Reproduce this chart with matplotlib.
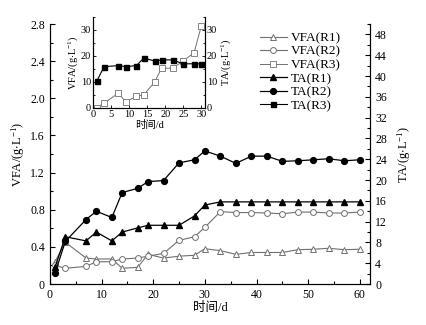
import matplotlib; matplotlib.use('Agg')
import matplotlib.pyplot as plt
from matplotlib.ticker import MultipleLocator

plt.rcParams['font.family'] = ['Liberation Serif', 'Noto Sans CJK SC']
plt.rcParams['mathtext.fontset'] = 'stix'

# main chart data
days = [1, 3, 7, 9, 12, 14, 17, 19, 22, 25, 28, 30, 33, 36, 39, 42, 45, 48, 51, 54, 57, 60]
vfa_r1 = [0.24, 0.45, 0.28, 0.27, 0.27, 0.17, 0.18, 0.32, 0.28, 0.30, 0.31, 0.38,
          0.36, 0.32, 0.34, 0.34, 0.34, 0.37, 0.375, 0.385, 0.37, 0.375]
vfa_r2 = [0.20, 0.17, 0.19, 0.24, 0.24, 0.27, 0.28, 0.30, 0.33, 0.47, 0.51, 0.61,
          0.78, 0.77, 0.77, 0.765, 0.757, 0.775, 0.775, 0.765, 0.765, 0.775]
ta_r1 = [3.2, 9.1, 8.3, 10.0, 8.3, 10.0, 10.8, 11.3, 11.3, 11.3, 13.1, 15.2,
         15.8, 15.8, 15.8, 15.8, 15.8, 15.8, 15.8, 15.8, 15.8, 15.8]
ta_r2 = [2.1, 8.2, 12.4, 14.0, 12.8, 17.6, 18.4, 19.7, 19.9, 23.3, 23.9, 25.6,
         24.6, 23.2, 24.6, 24.6, 23.6, 23.7, 23.9, 24.1, 23.7, 23.9]

# inset data (R3)
days3 = [1, 3, 7, 9, 12, 14, 17, 19, 22, 25, 28, 30]
vfa_r3 = [0.0, 1.7, 5.6, 2.2, 4.3, 4.9, 9.8, 15.2, 15.2, 18.0, 21.2, 31.5]
ta_r3 = [10.3, 15.8, 16.2, 15.8, 16.2, 19.1, 18.0, 18.4, 18.4, 16.9, 16.9, 16.9]

GRAY = '#707070'
unit = r'$\mathregular{/(g{\cdot}L^{-1})}$'

fig = plt.figure(figsize=(4.26, 3.25), dpi=100)
ax = fig.add_axes([0.117, 0.126, 0.752, 0.80])
ax2 = ax.twinx()

l1, = ax.plot(days, vfa_r1, '-^', color=GRAY, lw=0.8, ms=4.2, mfc='white', mec=GRAY, mew=0.7)
l2, = ax.plot(days, vfa_r2, '-o', color=GRAY, lw=0.8, ms=4.2, mfc='white', mec=GRAY, mew=0.7)
l4, = ax2.plot(days, ta_r1, '-^', color='black', lw=0.9, ms=4.2)
l5, = ax2.plot(days, ta_r2, '-o', color='black', lw=0.9, ms=4.2)

ax.set_xlim(0, 62)
ax.set_ylim(0, 2.8)
ax2.set_ylim(0, 50)
ax.xaxis.set_major_locator(MultipleLocator(10))
ax.xaxis.set_minor_locator(MultipleLocator(5))
ax.yaxis.set_minor_locator(MultipleLocator(0.2))
ax2.yaxis.set_minor_locator(MultipleLocator(2))
ax.set_yticks([0, 0.4, 0.8, 1.2, 1.6, 2.0, 2.4, 2.8])
ax.set_yticklabels(['0', '0.4', '0.8', '1.2', '1.6', '2.0', '2.4', '2.8'])
ax2.set_yticks(range(0, 49, 4))
for a in (ax, ax2):
    a.spines['top'].set_visible(False)
    a.tick_params(which='both', direction='in', labelsize=8.5, width=0.8)
    a.tick_params(which='major', length=3.5)
    a.tick_params(which='minor', length=2)
ax.set_xlabel('时间/d', fontsize=9, labelpad=1)
ax.set_ylabel('VFA' + unit, fontsize=9, labelpad=2)
ax2.set_ylabel('TA' + unit, fontsize=9, labelpad=6)

# inset
ins = fig.add_axes([0.219, 0.669, 0.262, 0.279])
ins2 = ins.twinx()
l3, = ins.plot(days3, vfa_r3, '-s', color=GRAY, lw=0.7, ms=3.8, mfc='white', mec=GRAY, mew=0.6)
l6, = ins2.plot(days3, ta_r3, '-s', color='black', lw=0.8, ms=3.6)
ins.set_xlim(0, 31)
ins.set_ylim(0, 35)
ins2.set_ylim(0, 35)
ins.xaxis.set_major_locator(MultipleLocator(5))
for a in (ins, ins2):
    a.yaxis.set_major_locator(MultipleLocator(10))
    a.yaxis.set_minor_locator(MultipleLocator(5))
    a.spines['top'].set_visible(False)
    a.tick_params(which='both', direction='in', labelsize=7.5, width=0.6, pad=1.5)
    a.tick_params(which='major', length=2.5)
    a.tick_params(which='minor', length=1.5)
ins.set_xlabel('时间/d', fontsize=7.5, labelpad=1)
ins.set_ylabel('VFA' + unit, fontsize=7.5, labelpad=1)
ins2.set_ylabel('TA' + unit, fontsize=7.5, labelpad=1)

ax.legend([l1, l2, l3, l4, l5, l6],
          ['VFA(R1)', 'VFA(R2)', 'VFA(R3)', 'TA(R1)', 'TA(R2)', 'TA(R3)'],
          loc='upper left', bbox_to_anchor=(0.64, 0.99), frameon=False,
          fontsize=9.5, handlelength=2.0, handletextpad=0.3, labelspacing=0.1,
          borderaxespad=0)

fig.savefig('out.png', dpi=100)
